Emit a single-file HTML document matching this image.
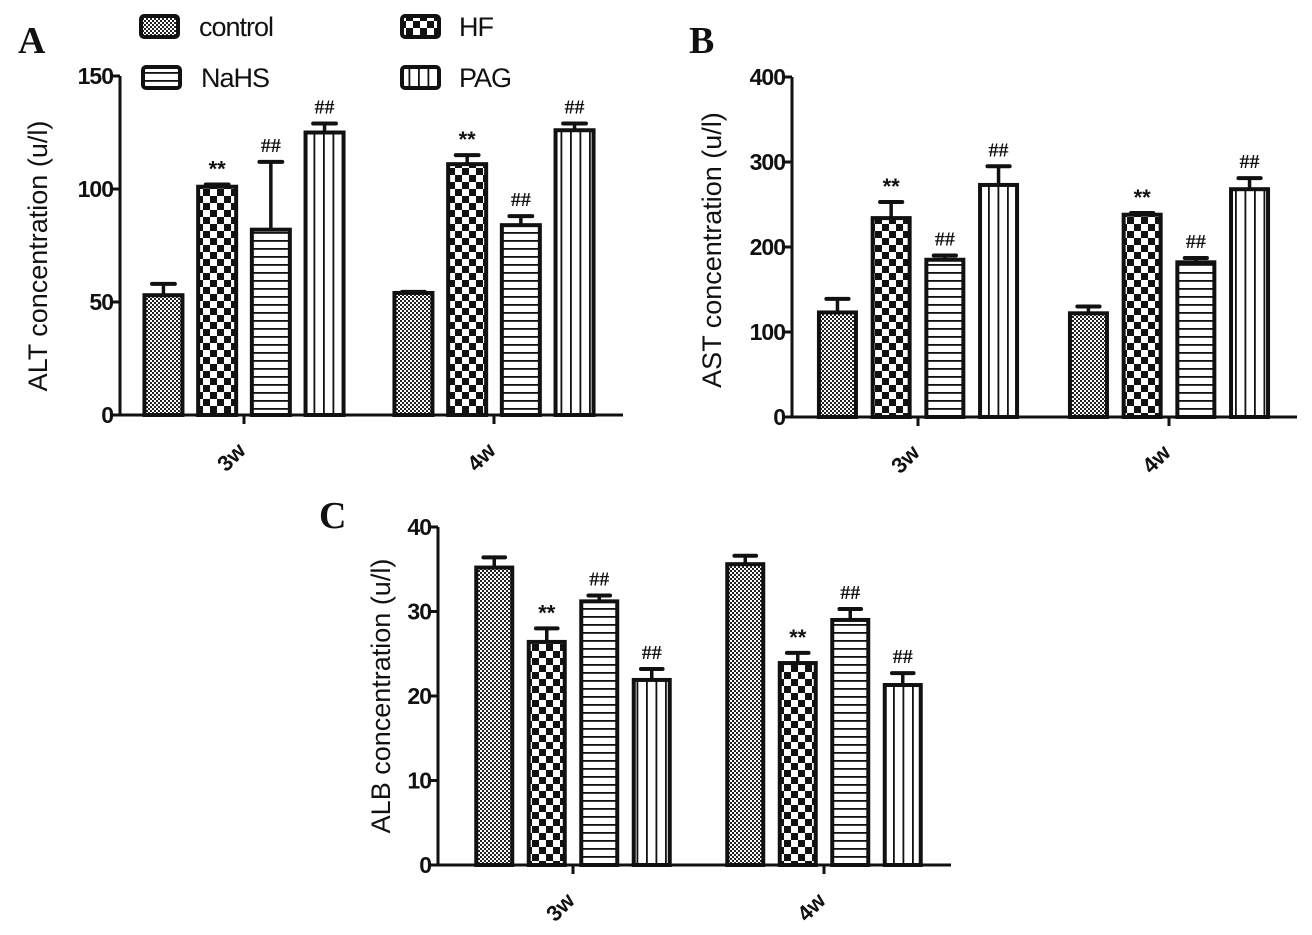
<!DOCTYPE html>
<html><head><meta charset="utf-8"><style>
html,body{margin:0;padding:0;background:#fff;}
svg{display:block;}
</style></head><body>
<svg id="chart" width="1312" height="935" viewBox="0 0 1312 935" xmlns="http://www.w3.org/2000/svg" font-family="Liberation Sans, Arial, sans-serif">
<defs>
<pattern id="p-control" patternUnits="userSpaceOnUse" width="4" height="4"><rect width="4" height="4" fill="#fff"/><rect width="2" height="2" fill="#222"/><rect x="2" y="2" width="2" height="2" fill="#222"/></pattern>
<pattern id="p-hf" patternUnits="userSpaceOnUse" width="14" height="14"><rect width="14" height="14" fill="#fff"/><rect width="7" height="7" fill="#111"/><rect x="7" y="7" width="7" height="7" fill="#111"/></pattern>
<pattern id="p-nahs" patternUnits="userSpaceOnUse" width="6" height="8"><rect width="6" height="8" fill="#fff"/><rect y="0" width="6" height="1.8" fill="#111"/></pattern>
<pattern id="p-pag" patternUnits="userSpaceOnUse" width="9.5" height="8"><rect width="9.5" height="8" fill="#fff"/><rect x="0" width="1.8" height="8" fill="#111"/></pattern>
</defs>
<g id="root"></g>
</svg>
<script>
const groups = ["3w","4w"];
const seriesNames = ["control","HF","NaHS","PAG"];
const altValues = [[53,101,82,125],[54,111,84,126]];
const altErrors = [[5,1,30,4],[0.5,4,4,3]];
const altMarks = [["","**","##","##"],["","**","##","##"]];
const altTicks = [0,50,100,150];
const astValues = [[123,234,185,273],[122,238,182,268]];
const astErrors = [[16,19,5,22],[8,2,5,13]];
const astMarks = [["","**","##","##"],["","**","##","##"]];
const astTicks = [0,100,200,300,400];
const albValues = [[35.2,26.4,31.2,21.9],[35.6,23.9,29.0,21.3]];
const albErrors = [[1.2,1.6,0.7,1.3],[1.0,1.2,1.3,1.4]];
const albMarks = [["","**","##","##"],["","**","##","##"]];
const albTicks = [0,10,20,30,40];

const NS="http://www.w3.org/2000/svg";
const root=document.getElementById('root');
const pats=["url(#p-control)","url(#p-hf)","url(#p-nahs)","url(#p-pag)"];
const SERIF="Liberation Serif, Times New Roman, serif";
function el(tag,attrs,parent,txt){const e=document.createElementNS(NS,tag);for(const k in attrs)e.setAttribute(k,attrs[k]);if(txt!==undefined)e.textContent=txt;(parent||root).appendChild(e);return e;}

function panel(cfg){
  const g=el('g',{});
  
  
  const max=cfg.ticks[cfg.ticks.length-1];
  const y=v=>cfg.y0-(v/max)*(cfg.y0-cfg.yTop);
  cfg.values.forEach((vals,gi)=>{
    vals.forEach((v,si)=>{
      const cx=cfg.centers[gi]+(si-1.5)*cfg.spacing;
      const top=y(v), et=y(v+cfg.errors[gi][si]);
      const ln=el('line',{x1:cx,x2:cx,y1:top,y2:et,stroke:'#111','stroke-width':3.5},g);
      
      
      const cap=el('line',{x1:cx-cfg.bw*0.3,x2:cx+cfg.bw*0.3,y1:et,y2:et,stroke:'#111','stroke-width':4,'stroke-linecap':'round'},g);
      
      
      const r=el('rect',{x:cx-cfg.bw/2,y:top,width:cfg.bw,height:cfg.y0-top,fill:pats[si],stroke:'#111','stroke-width':4},g);
      
      
      const m=cfg.marks[gi][si];
      if(m){const t=el('text',{x:cx,y:et-(m=="**"?8:10),'text-anchor':'middle','font-size':m=="**"?22:20,'font-weight':'bold','font-family':m=="**"?'Liberation Sans, sans-serif':SERIF,fill:'#111'},g,m);
        
        }
    });
  });
  const ya=el('line',{x1:cfg.x0,x2:cfg.x0,y1:cfg.yTop,y2:cfg.y0+1.5,stroke:'#111','stroke-width':3},g);
  
  
  const xa=el('line',{x1:cfg.x0-1.5,x2:cfg.xEnd,y1:cfg.y0,y2:cfg.y0,stroke:'#111','stroke-width':3},g);
  
  
  cfg.ticks.forEach(tv=>{
    const ty=y(tv);
    el('line',{x1:cfg.x0-7,x2:cfg.x0,y1:ty,y2:ty,stroke:'#111','stroke-width':3},g);
    const t=el('text',{x:cfg.x0-7,y:ty+8,'text-anchor':'end','font-size':23,'font-weight':'bold',fill:'#111','letter-spacing':'-1'},g,String(tv));
    
    
  });
  groups.forEach((gn,gi)=>{
    const cx=cfg.centers[gi];
    el('line',{x1:cx,x2:cx,y1:cfg.y0,y2:cfg.y0+9,stroke:'#111','stroke-width':3},g);
    const lx=cx+3, ly=cfg.y0+37;
    const t=el('text',{x:lx,y:ly,'text-anchor':'end','font-size':22,'font-weight':'bold',fill:'#111',transform:`rotate(-45 ${lx} ${ly})`},g,gn);
    
    
  });
  const tx=cfg.titleX, tyc=cfg.titleY;
  const tt=el('text',{x:tx,y:tyc,'text-anchor':'middle','font-size':27,fill:'#111',transform:`rotate(-90 ${tx} ${tyc})`},g,cfg.title);
  
  
  const pl=el('text',{x:cfg.labelX,y:cfg.labelY,'font-size':38,'font-weight':'bold','font-family':SERIF,fill:'#111'},g,cfg.label);
  
  
}

panel({name:'panel-a-alt',values:altValues,errors:altErrors,marks:altMarks,ticks:altTicks,x0:120,xEnd:623,y0:415,yTop:76,centers:[244,494],spacing:53.7,bw:38,title:'ALT concentration (u/l)',titleX:47,titleY:256,label:'A',labelX:18,labelY:53});
panel({name:'panel-b-ast',values:astValues,errors:astErrors,marks:astMarks,ticks:astTicks,x0:792,xEnd:1297,y0:417,yTop:77,centers:[918,1169],spacing:53.7,bw:37,title:'AST concentration (u/l)',titleX:721,titleY:250,label:'B',labelX:689,labelY:53});
panel({name:'panel-c-alb',values:albValues,errors:albErrors,marks:albMarks,ticks:albTicks,x0:438,xEnd:951,y0:865,yTop:527,centers:[573,824],spacing:52.5,bw:36,title:'ALB concentration (u/l)',titleX:390,titleY:696,label:'C',labelX:319,labelY:528});

const leg=[{x:141,y:16,tx:199,ty:36},{x:402,y:16,tx:459,ty:36},{x:143,y:67,tx:201,ty:87},{x:402,y:67,tx:459,ty:87}];
leg.forEach((p,i)=>{
  const r=el('rect',{x:p.x,y:p.y,width:37,height:21,rx:3,fill:pats[i],stroke:'#111','stroke-width':4});
  
  
  const t=el('text',{x:p.tx,y:p.ty,'font-size':27,fill:'#111','letter-spacing':'-1'},root,seriesNames[i]);
  
  
});
</script>
</body></html>
